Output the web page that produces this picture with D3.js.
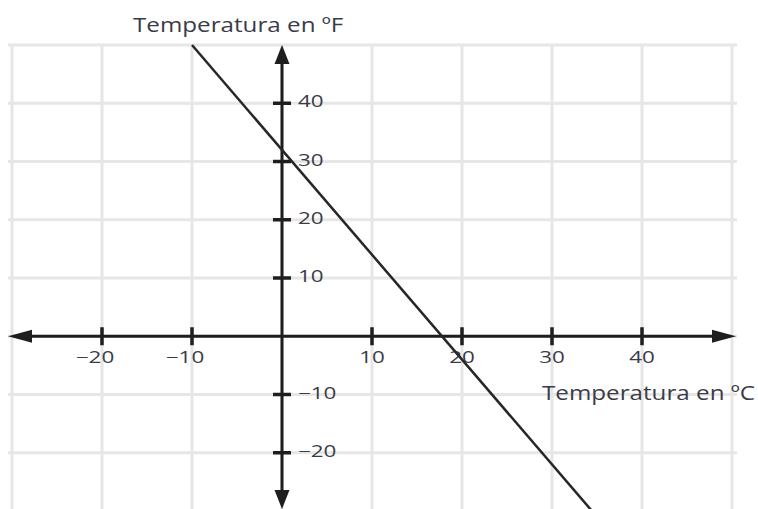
<!DOCTYPE html>
<html>
<head>
<meta charset="utf-8">
<script src="https://cdn.jsdelivr.net/npm/d3@7"></script>
<style>
  body { margin: 0; background: #fff; }
  text { font-family: "Open Sans", "Noto Sans", sans-serif; fill: #3b3b48; }
</style>
</head>
<body>
<div id="chart"></div>
<script>
// grid lines (every 10 units) and labelled ticks
var gridX = [-30, -20, -10, 0, 10, 20, 30, 40, 50];
var gridY = [-20, -10, 0, 10, 20, 30, 40, 50];
var ticksX = [-20, -10, 10, 20, 30, 40];
var ticksY = [-20, -10, 10, 20, 30, 40];

// the plotted line: °F against °C
var celsius = [-10, 35];
var fahrenheit = [50, -31];

var xTitle = "Temperatura en ºC";
var yTitle = "Temperatura en ºF";

var width = 758, height = 509;

var x = d3.scaleLinear().domain([-30, 50]).range([12, 732]);
var y = d3.scaleLinear().domain([-30, 50]).range([511, 45]);

var svg = d3.select("#chart")
  .append("svg")
  .attr("width", width)
  .attr("height", height);

var grey = "#e6e6e6";

// vertical grid
svg.selectAll(".gx")
  .data(gridX)
  .enter()
  .append("line")
  .attr("class", "gx")
  .attr("x1", d => x(d))
  .attr("x2", d => x(d))
  .attr("y1", y(50))
  .attr("y2", height)
  .style("stroke", grey)
  .style("stroke-width", 3);

// horizontal grid
svg.selectAll(".gy")
  .data(gridY)
  .enter()
  .append("line")
  .attr("class", "gy")
  .attr("x1", 8)
  .attr("x2", 737)
  .attr("y1", d => y(d))
  .attr("y2", d => y(d))
  .style("stroke", grey)
  .style("stroke-width", 3);

var ink = "#1e1e1e";
var x0 = x(0), y0 = y(0);

// axes with arrow heads
svg.append("line")
  .attr("x1", 20).attr("x2", 724)
  .attr("y1", y0).attr("y2", y0)
  .style("stroke", ink).style("stroke-width", 3);

svg.append("line")
  .attr("x1", x0).attr("x2", x0)
  .attr("y1", y(50) + 10).attr("y2", height - 10)
  .style("stroke", ink).style("stroke-width", 3);

var arrows = [
  [[8, y0], [32, y0 - 6.5], [32, y0 + 6.5]],
  [[736, y0], [712, y0 - 6.5], [712, y0 + 6.5]],
  [[x0, y(50)], [x0 - 7.5, y(50) + 19], [x0 + 7.5, y(50) + 19]],
  [[x0, height], [x0 - 7.5, height - 19], [x0 + 7.5, height - 19]]
];
svg.selectAll(".arrow")
  .data(arrows)
  .enter()
  .append("path")
  .attr("class", "arrow")
  .attr("d", d => "M" + d.join("L") + "Z")
  .style("fill", ink);

// the picture is stretched sideways, so the text is too
var labelStretch = 1.4, titleStretch = 1.21;
var fmt = d3.format("d");

// x ticks
svg.selectAll(".tx")
  .data(ticksX)
  .enter()
  .append("line")
  .attr("class", "tx")
  .attr("x1", d => x(d)).attr("x2", d => x(d))
  .attr("y1", y0 - 9).attr("y2", y0 + 9)
  .style("stroke", ink).style("stroke-width", 3.5);

svg.selectAll(".lx")
  .data(ticksX)
  .enter()
  .append("text")
  .attr("class", "lx")
  .attr("transform", d => "translate(" + (x(d) + (d < 0 ? -7 : 0)) + "," + (y0 + 27) + ") scale(" + labelStretch + ",1)")
  .style("text-anchor", "middle")
  .style("font-size", "16px")
  .text(d => fmt(d));

// y ticks
svg.selectAll(".ty")
  .data(ticksY)
  .enter()
  .append("line")
  .attr("class", "ty")
  .attr("x1", x0 - 9).attr("x2", x0 + 9)
  .attr("y1", d => y(d)).attr("y2", d => y(d))
  .style("stroke", ink).style("stroke-width", 3.5);

svg.selectAll(".ly")
  .data(ticksY)
  .enter()
  .append("text")
  .attr("class", "ly")
  .attr("transform", d => "translate(" + (x0 + 16) + "," + (y(d) + 4) + ") scale(" + labelStretch + ",1)")
  .style("font-size", "16px")
  .text(d => fmt(d));

// the line
var line = d3.line()
  .x(d => x(d[0]))
  .y(d => y(d[1]));

svg.append("path")
  .datum(d3.zip(celsius, fahrenheit))
  .attr("d", line)
  .style("fill", "none")
  .style("stroke", "#262626")
  .style("stroke-width", 2.5);

// titles
svg.append("text")
  .attr("transform", "translate(133,32) scale(" + titleStretch + ",1)")
  .style("font-size", "20px")
  .text(yTitle);

svg.append("text")
  .attr("transform", "translate(542,400) scale(" + titleStretch + ",1)")
  .style("font-size", "20px")
  .text(xTitle);
</script>
</body>
</html>
